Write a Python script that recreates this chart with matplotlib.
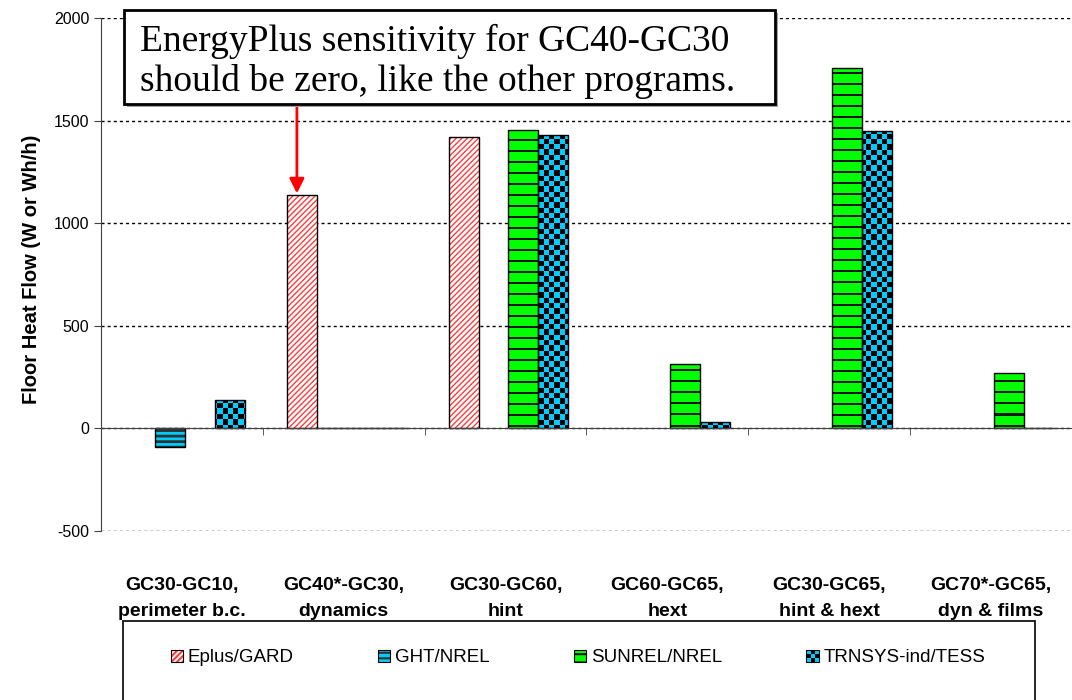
import numpy as np
import matplotlib
matplotlib.use('Agg')
import matplotlib.pyplot as plt
import matplotlib.patches as mpatches
import matplotlib.transforms as mtransforms
from matplotlib.colors import ListedColormap
from matplotlib.legend_handler import HandlerBase

plt.rcParams['font.family'] = ['Liberation Sans', 'DejaVu Sans']
plt.rcParams['axes.unicode_minus'] = False
plt.rcParams['hatch.linewidth'] = 1.5

# data (W or Wh/h), nan = no bar
categories = ['GC30-GC10,\nperimeter b.c.', 'GC40*-GC30,\ndynamics', 'GC30-GC60,\nhint',
              'GC60-GC65,\nhext', 'GC30-GC65,\nhint & hext', 'GC70*-GC65,\ndyn & films']
series_names = ['Eplus/GARD', 'GHT/NREL', 'SUNREL/NREL', 'TRNSYS-ind/TESS']
eplus = [np.nan, 1135, 1418, np.nan, np.nan, np.nan]
ght = [-93, 4, np.nan, np.nan, np.nan, np.nan]
sunrel = [np.nan, 4, 1452, 313, 1758, 271]
trnsys = [137, 4, 1430, 32, 1451, 4]
yticks = [-500, 0, 500, 1000, 1500, 2000]
note = 'EnergyPlus sensitivity for GC40-GC30\nshould be zero, like the other programs.'

cyan = '#00CCFF'
green = '#00FF00'

fig = plt.figure(figsize=(10.72, 7.0), dpi=100)
ax = fig.add_axes([101/1072, 1 - 531/700, 971/1072, 513/700])
ax.set_xlim(-0.5, len(categories) - 0.5)
ax.set_ylim(yticks[0], yticks[-1])
full = (-0.5, len(categories) - 0.5, yticks[0], yticks[-1])

x = np.arange(len(categories))
w = 0.185
shift = 0.018
offs = [(k - 1.5) * w + shift for k in range(4)]


def textured(bars, arr, colors):
    # fill each bar with a pixel texture clipped to the bar
    for p in bars:
        im = ax.imshow(arr, cmap=ListedColormap(colors), extent=full, aspect='auto',
                       interpolation='nearest', zorder=3.5)
        im.set_clip_path(p)


# hatch layer + black outline layer
styles = [
    dict(color='white', hatch='//////', edgecolor='#FF3C3C', hlw=1.0),
    dict(color=cyan, hatch='---', edgecolor='#303030', hlw=2.0),
    dict(color=green, hatch='--', edgecolor='#101010', hlw=1.8),
]
handles = []
for k, vals in enumerate([eplus, ght, sunrel]):
    st = styles[k]
    with plt.rc_context({'hatch.linewidth': st['hlw']}):
        b = ax.bar(x + offs[k], vals, width=w, color=st['color'],
                   hatch=st['hatch'] if k < 2 else None,
                   edgecolor=st['edgecolor'], linewidth=0, zorder=3)
    for p in b:
        if hasattr(p, 'set_hatch_linewidth'):
            p.set_hatch_linewidth(st['hlw'])
    if k == 2:
        # stripes every 11 px, like the source
        rows = np.arange(513)
        stripes = ((rows % 11) < 2).astype(float)[:, None]
        textured(b, stripes, [green, '#151515'])
    ax.bar(x + offs[k], vals, width=w, fill=False, edgecolor='black', linewidth=1.0, zorder=4)
    with plt.rc_context({'hatch.linewidth': st['hlw']}):
        hp = mpatches.Patch(facecolor=st['color'], hatch=st['hatch'], edgecolor=st['edgecolor'], linewidth=0)
    if hasattr(hp, 'set_hatch_linewidth'):
        hp.set_hatch_linewidth(st['hlw'])
    handles.append((hp, mpatches.Patch(fill=False, edgecolor='black', linewidth=0.8)))

# checkerboard texture for TRNSYS bars
tb = ax.bar(x + offs[3], trnsys, width=w, color=cyan, linewidth=0, zorder=3)
nx, ny = 184, 97
checker = (np.add.outer(np.arange(ny), np.arange(nx)) % 2).astype(float)
textured(tb, checker, [cyan, 'black'])
ax.bar(x + offs[3], trnsys, width=w, fill=False, edgecolor='black', linewidth=1.0, zorder=4)
ax.set_xlim(-0.5, len(categories) - 0.5)
ax.set_ylim(yticks[0], yticks[-1])

# axes styling
ax.set_yticks(yticks)
ax.tick_params(axis='y', labelsize=11.5, length=5, color='#404040')
ax.grid(axis='y', color='black', linestyle=(0, (2.2, 2.2)), linewidth=1.0, zorder=0)
ax.set_axisbelow(True)
for s in ['top', 'right']:
    ax.spines[s].set_visible(False)
ax.spines['left'].set_color('#404040')
ax.spines['bottom'].set_position(('data', 0))
ax.spines['bottom'].set_color('#404040')
ax.spines['bottom'].set_zorder(5)
ax.set_xticks(x)
ax.set_xticklabels([])
ax.tick_params(axis='x', which='major', length=0)
ax.set_xticks(np.arange(len(categories) + 1) - 0.5, minor=True)
ax.tick_params(axis='x', which='minor', length=5, direction='out', color='#404040')
ax.set_ylabel('Floor Heat Flow (W or Wh/h)', fontsize=14.5, fontweight='bold')
ax.yaxis.set_label_coords(-0.062, 0.51)

trans = mtransforms.blended_transform_factory(ax.transData, ax.transAxes)
for i, c in enumerate(categories):
    ax.text(x[i], -0.089, c, transform=trans, ha='center', va='top', fontsize=14,
            fontweight='bold', linespacing=1.75)

# note box and arrow
fig.patches.append(mpatches.Rectangle((127/1072, 1 - 107/700), 651/1072, 94/700, transform=fig.transFigure,
                                      facecolor='#A0A0A0', edgecolor='none', zorder=5))
fig.patches.append(mpatches.Rectangle((124/1072, 1 - 104/700), 651/1072, 94/700, transform=fig.transFigure,
                                      facecolor='white', edgecolor='black', linewidth=2, zorder=6))
fig.text(140/1072, 1 - 61/700, note, fontsize=27, family=['Liberation Serif', 'DejaVu Serif'],
         ha='left', va='center', linespacing=1.18, zorder=7)
ax.annotate('', xy=(x[1] + offs[0] - 0.03, eplus[1] + 10), xytext=(x[1] + offs[0] - 0.03, 1585),
            arrowprops=dict(arrowstyle='-|>', color='red', lw=2, mutation_scale=22, shrinkA=0, shrinkB=0),
            annotation_clip=False, zorder=8)


class CheckerHandler(HandlerBase):
    def create_artists(self, legend, orig_handle, xdescent, ydescent, width, height, fontsize, trans):
        arts = []
        n = 3
        for i in range(n):
            for j in range(n):
                c = 'black' if (i + j) % 2 else cyan
                arts.append(mpatches.Rectangle((-xdescent + i * width / n, -ydescent + j * height / n),
                                               width / n, height / n, facecolor=c, edgecolor='none', transform=trans))
        arts.append(mpatches.Rectangle((-xdescent, -ydescent), width, height, fill=False,
                                       edgecolor='black', linewidth=0.8, transform=trans))
        return arts


tr_handle = mpatches.Patch()
handles.append(tr_handle)

fig.patches.append(mpatches.Rectangle((123/1072, -0.02), 912/1072, (700 - 621)/700 + 0.02,
                                      transform=fig.transFigure, facecolor='white', edgecolor='black', linewidth=1.2))
fig.legend(handles, series_names, handler_map={tr_handle: CheckerHandler()}, loc='center',
           bbox_to_anchor=(578/1072, 1 - 658/700), ncol=4, frameon=False, fontsize=13.5,
           handlelength=0.65, handleheight=0.65, handletextpad=0.25, columnspacing=4.5,
           borderaxespad=0, borderpad=0)

fig.savefig('out.png', dpi=100)
